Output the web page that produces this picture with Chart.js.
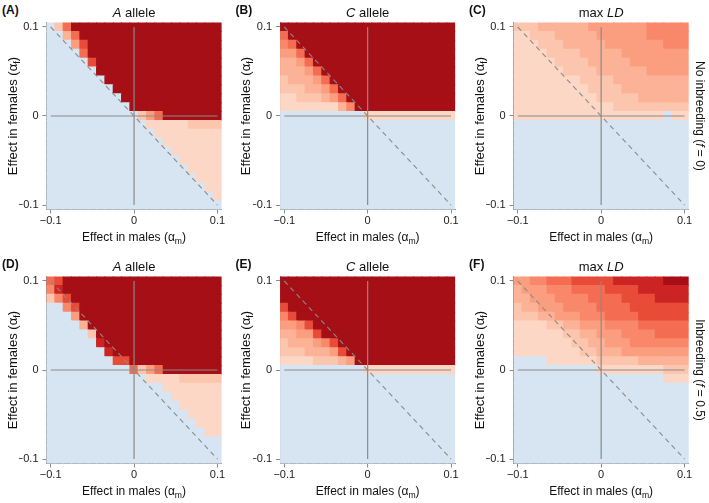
<!DOCTYPE html>
<html><head><meta charset="utf-8">
<script src="https://cdn.jsdelivr.net/npm/chart.js@4.4.0/dist/chart.umd.min.js"></script>
<style>
html,body{margin:0;padding:0;background:#fff;}
#wrap{position:relative;width:709px;height:503px;overflow:hidden;font-family:'Liberation Sans',Arial,Helvetica,sans-serif;color:#111;}
#wrap canvas{position:absolute;}
.t{position:absolute;white-space:nowrap;transform:translate(-50%,-50%);line-height:1;z-index:5;}
.lbl{position:absolute;font-weight:bold;font-size:12px;line-height:1;z-index:5;}
.ttl{font-size:13px;}
.ax{font-size:12px;}
.ay{font-size:13px;}
.rot{transform:translate(-50%,-50%) rotate(-90deg);}
.rotr{transform:translate(-50%,-50%) rotate(90deg);}
sub{font-size:0.72em;vertical-align:-0.35em;line-height:0;}
</style></head>
<body><div id="wrap"></div>
<script>
// axes values
const alphaM = [-0.1,-0.09,-0.08,-0.07,-0.06,-0.05,-0.04,-0.03,-0.02,-0.01,0,0.01,0.02,0.03,0.04,0.05,0.06,0.07,0.08,0.09,0.1];
const alphaF = [0.1,0.09,0.08,0.07,0.06,0.05,0.04,0.03,0.02,0.01,0,-0.01,-0.02,-0.03,-0.04,-0.05,-0.06,-0.07,-0.08,-0.09,-0.1];
const tickValues = [-0.1, 0, 0.1];
const tickLabels = ['\u22120.1', '0', '0.1'];

// cell codes per row (alpha_f from 0.1 down to -0.1), columns alpha_m from -0.1 to 0.1
// '.' = blue, '1'..'9' = increasing red intensity (spaces only group columns by 7)
const panelA = [
".269999 9999999 9999999",
"..36999 9999999 9999999",
"...4799 9999999 9999999",
"....699 9999999 9999999",
".....79 9999999 9999999",
"......9 9999999 9999999",
"....... 9999999 9999999",
"....... .999999 9999999",
"....... ..99999 9999999",
"....... ...9999 9999999",
"....... ....246 9999999",
"....... .....11 1112222",
"....... ......1 1111111",
"....... ....... 1111111",
"....... ....... .111111",
"....... ....... ..11111",
"....... ....... ...1111",
"....... ....... ....111",
"....... ....... .....11",
"....... ....... ......1",
"....... ....... ......."
];
const panelB = [
"9999999 9999999 9999999",
"6999999 9999999 9999999",
"5699999 9999999 9999999",
"4469999 9999999 9999999",
"3346999 9999999 9999999",
"3334699 9999999 9999999",
"2333469 9999999 9999999",
"2223346 9999999 9999999",
"1122234 6999999 9999999",
"1111111 3599999 9999999",
"....... ...1111 1111111",
"....... ....... .......",
"....... ....... .......",
"....... ....... .......",
"....... ....... .......",
"....... ....... .......",
"....... ....... .......",
"....... ....... .......",
"....... ....... .......",
"....... ....... .......",
"....... ....... ......."
];
const panelC = [
"2223333 3344444 4455555",
"1122233 3334444 4455555",
"1112223 3333444 4444555",
"1111222 2333334 4444444",
"1111122 2233333 4444444",
"1111112 2223333 3344444",
"1111111 1222233 3333333",
"1111111 1122223 3333333",
"1111111 1112222 2333333",
"1111111 1111122 2222222",
"1111111 1111111 1111.11",
"....... ....... .......",
"....... ....... .......",
"....... ....... .......",
"....... ....... .......",
"....... ....... .......",
"....... ....... .......",
"....... ....... .......",
"....... ....... .......",
"....... ....... .......",
"....... ....... ......."
];
const panelD = [
"6799999 9999999 9999999",
"5899999 9999999 9999999",
"2579999 9999999 9999999",
"..57999 9999999 9999999",
"...4999 9999999 9999999",
"....399 9999999 9999999",
".....29 9999999 9999999",
"......8 9999999 9999999",
"....... 8999999 9999999",
"....... .779999 9999999",
"....... ...6246 9999999",
"....... .....11 1122222",
"....... ....... 1111111",
"....... ....... .111111",
"....... ....... ..11111",
"....... ....... ...1111",
"....... ....... ....111",
"....... ....... .....11",
"....... ....... .......",
"....... ....... .......",
"....... ....... ......."
];
const panelE = [
"9999999 9999999 9999999",
"9999999 9999999 9999999",
"9999999 9999999 9999999",
"7999999 9999999 9999999",
"5799999 9999999 9999999",
"4457999 9999999 9999999",
"3344799 9999999 9999999",
"2333457 9999999 9999999",
"2223334 7999999 9999999",
"1111222 3499999 9999999",
"....... ...1111 1111111",
"....... ....... .......",
"....... ....... .......",
"....... ....... .......",
"....... ....... .......",
"....... ....... .......",
"....... ....... .......",
"....... ....... .......",
"....... ....... .......",
"....... ....... .......",
"....... ....... ......."
];
const panelF = [
"4455666 7777788 8888999",
"3444555 6666777 7888888",
"3344455 5566667 7778888",
"2334445 5556666 7777777",
"2223344 4555666 6777777",
"1111223 3444555 5666666",
"1111112 2334445 5556666",
"1111111 2233444 5555555",
"1111111 1223334 4444444",
"....111 1112222 2333333",
"....... ...1111 1111222",
"....... ....... ....111",
"....... ....... .......",
"....... ....... .......",
"....... ....... .......",
"....... ....... .......",
"....... ....... .......",
"....... ....... .......",
"....... ....... .......",
"....... ....... .......",
"....... ....... ......."
];

const blue = '#D7E5F3';
const reds = ['#FEE6DA','#FDD7C5','#FCC5AD','#FCB296','#FB9E80','#F9876A','#F46D52','#E84B37','#CC2424','#A50F15'];
const lineGrey = '#8a8a8a';

const wrap = document.getElementById('wrap');
Chart.defaults.font.family = "'Liberation Sans', Arial, Helvetica, sans-serif";

const panels = [
  {letter:'(A)', title:'<i>A</i> allele', rows:panelA, l:46.5, r:221.6, t:22.55, b:209.45},
  {letter:'(B)', title:'<i>C</i> allele', rows:panelB, l:280.1, r:455.2, t:22.55, b:209.45},
  {letter:'(C)', title:'max <i>LD</i>', rows:panelC, l:513.6, r:688.7, t:22.55, b:209.45},
  {letter:'(D)', title:'<i>A</i> allele', rows:panelD, l:46.5, r:221.6, t:276.55, b:463.45},
  {letter:'(E)', title:'<i>C</i> allele', rows:panelE, l:280.1, r:455.2, t:276.55, b:463.45},
  {letter:'(F)', title:'max <i>LD</i>', rows:panelF, l:513.6, r:688.7, t:276.55, b:463.45}
];

function addText(html, cls, x, y) {
  const d = document.createElement('div');
  d.className = cls;
  d.innerHTML = html;
  d.style.left = x + 'px';
  d.style.top = y + 'px';
  wrap.appendChild(d);
}

function makePanel(p) {
  const cl = Math.floor(p.l) - 27, ct = Math.floor(p.t) - 14;
  const cr = Math.ceil(p.r) + 14, cb = Math.ceil(p.b) + 24;
  const W = cr - cl, H = cb - ct;
  const cv = document.createElement('canvas');
  cv.width = W; cv.height = H;
  cv.style.left = cl + 'px'; cv.style.top = ct + 'px';
  cv.style.width = W + 'px'; cv.style.height = H + 'px';
  wrap.appendChild(cv);
  const yW = p.l - cl, padT = p.t - ct, padR = cr - p.r, xH = cb - p.b;

  const pts = [], cols = [];
  for (let r = 0; r < alphaF.length; r++) {
    const row = p.rows[r].replace(/ /g, '');
    for (let c = 0; c < alphaM.length; c++) {
      const ch = row[c];
      pts.push({x: alphaM[c], y: [alphaF[r] - 0.005, alphaF[r] + 0.005]});
      cols.push(ch === '.' ? blue : reds[+ch]);
    }
  }
  const lineDs = (data, dash) => ({
    type: 'line', data, borderColor: lineGrey, borderWidth: dash ? 1.1 : 1.2,
    borderDash: dash ? [5, 4] : [], pointRadius: 0, fill: false, order: 0, tension: 0
  });
  const tickCfg = (pad) => ({
    callback: (v, i) => tickLabels[i], font: {size: 11}, color: '#222',
    padding: pad, maxRotation: 0, autoSkip: false
  });
  const gridCfg = {display: true, drawOnChartArea: false, drawTicks: true, tickLength: 4, color: lineGrey, lineWidth: 1, offset: false};
  new Chart(cv, {
    type: 'bar',
    data: {datasets: [
      lineDs([{x: -0.1, y: 0}, {x: 0.1, y: 0}], false),
      lineDs([{x: 0, y: -0.1}, {x: 0, y: 0.1}], false),
      lineDs([{x: -0.1, y: 0.1}, {x: 0.1, y: -0.1}], true),
      {type: 'bar', data: pts, backgroundColor: cols, borderWidth: 0, inflateAmount: 0.5,
       barPercentage: 1, categoryPercentage: 1, order: 1}
    ]},
    options: {
      responsive: false, animation: false, events: [],
      layout: {padding: {left: 0, top: padT, right: padR, bottom: 0}, autoPadding: false},
      plugins: {legend: {display: false}, tooltip: {enabled: false}},
      scales: {
        x: {type: 'linear', min: -0.105, max: 0.105, bounds: 'data', offset: false,
            afterBuildTicks: s => { s.ticks = tickValues.map(v => ({value: v})); },
            afterFit: s => { s.height = xH; },
            ticks: tickCfg(1), grid: gridCfg, border: {display: true, color: lineGrey, width: 1}},
        y: {type: 'linear', min: -0.105, max: 0.105, bounds: 'data', offset: false,
            afterBuildTicks: s => { s.ticks = tickValues.map(v => ({value: v})); },
            afterFit: s => { s.width = yW; },
            ticks: tickCfg(4), grid: gridCfg, border: {display: true, color: lineGrey, width: 1}}
      }
    }
  });

  const cx = (p.l + p.r) / 2;
  const cy = (p.t + p.b) / 2;
  addText(p.letter, 'lbl', p.l - 44.5, p.t - 19);
  addText(p.title, 't ttl', cx, p.t - 10.5);
  addText('Effect in males (\u03b1<sub>m</sub>)', 't ax', cx, p.b + 27.5);
  addText('Effect in females (\u03b1<sub>f</sub>)', 't ay rot', p.l - 35, cy);
}

panels.forEach(makePanel);
addText('No inbreeding (<i>f</i> = 0)', 't ax rotr', 700, 116);
addText('Inbreeding (<i>f</i> = 0.5)', 't ax rotr', 700, 370);
</script>
</body></html>
